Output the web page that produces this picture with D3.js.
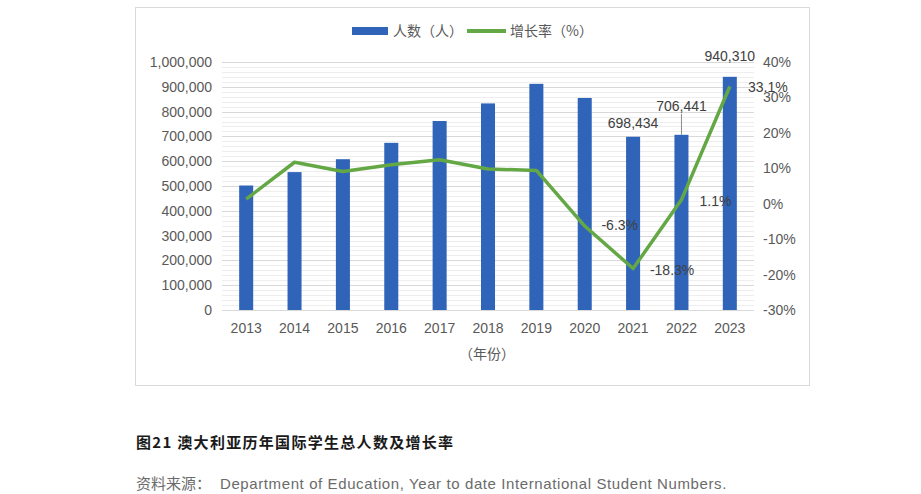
<!DOCTYPE html>
<html>
<head>
  <meta charset="utf-8">
  <script src="https://cdn.jsdelivr.net/npm/d3@7"></script>
  <style>
    body { margin: 0; background: #fff; }
    text { font-family: "Liberation Sans", Arial, "Noto Sans CJK SC", sans-serif; }
    .cjk { font-family: "Noto Sans CJK SC", "Liberation Sans", sans-serif; }
  </style>
</head>
<body>
  <svg width="921" height="494"></svg>
  <script>
    // data
    const years = ["2013", "2014", "2015", "2016", "2017", "2018", "2019", "2020", "2021", "2022", "2023"];
    const students = [502000, 556000, 608000, 674000, 762000, 833000, 912000, 855000, 698434, 706441, 940310];
    const growth = [1.3, 11.7, 9.1, 11.0, 12.4, 9.8, 9.4, -6.3, -18.3, 1.1, 33.1];
    const leftTicks = [0, 100000, 200000, 300000, 400000, 500000, 600000, 700000, 800000, 900000, 1000000];
    const rightTicks = [-30, -20, -10, 0, 10, 20, 30, 40];

    const blue = "#2f64b9";
    const green = "#64a846";
    const tickColor = "#595959";

    const svg = d3.select("svg");

    // outer frame
    svg.append("rect")
      .attr("x", 135.5).attr("y", 7.5)
      .attr("width", 674).attr("height", 378)
      .attr("fill", "#fff")
      .attr("stroke", "#d9d9d9");

    const x = d3.scaleBand().domain(years).range([222, 754]).paddingInner(0.71).paddingOuter(0.355);
    const y = d3.scaleLinear().domain([0, 1000000]).range([310, 62]);
    const y2 = d3.scaleLinear().domain([-30, 40]).range([310, 62]);

    // minor + major gridlines
    const minor = d3.range(0, 1000001, 20000).filter(v => v % 100000 !== 0);
    svg.append("g").selectAll("line").data(minor).join("line")
      .attr("x1", 222).attr("x2", 754)
      .attr("y1", d => Math.round(y(d)) + 0.5).attr("y2", d => Math.round(y(d)) + 0.5)
      .attr("stroke", "#eeeeee");
    svg.append("g").selectAll("line").data(leftTicks).join("line")
      .attr("x1", 222).attr("x2", 754)
      .attr("y1", d => Math.round(y(d)) + 0.5).attr("y2", d => Math.round(y(d)) + 0.5)
      .attr("stroke", "#d9d9d9");

    // left axis
    const fmt = d3.format(",");
    const leftAxis = svg.append("g")
      .attr("transform", "translate(222,0)")
      .call(d3.axisLeft(y).tickValues(leftTicks).tickFormat(fmt).tickSize(0).tickPadding(10));
    leftAxis.select(".domain").remove();
    leftAxis.selectAll("text").attr("font-size", 14).attr("fill", tickColor).attr("font-family", "Liberation Sans, Arial, sans-serif");

    // right axis
    const rightAxis = svg.append("g")
      .attr("transform", "translate(754,0)")
      .call(d3.axisRight(y2).tickValues(rightTicks).tickFormat(d => d + "%").tickSize(0).tickPadding(9));
    rightAxis.select(".domain").remove();
    rightAxis.selectAll("text").attr("font-size", 14).attr("fill", tickColor).attr("font-family", "Liberation Sans, Arial, sans-serif");

    // bottom axis
    const bottomAxis = svg.append("g")
      .attr("transform", "translate(0,310)")
      .call(d3.axisBottom(x).tickSize(0).tickPadding(13));
    bottomAxis.select(".domain").remove();
    bottomAxis.selectAll("text").attr("font-size", 14).attr("fill", tickColor).attr("font-family", "Liberation Sans, Arial, sans-serif");

    svg.append("text")
      .attr("class", "cjk")
      .attr("x", 487).attr("y", 359)
      .attr("text-anchor", "middle")
      .attr("font-size", 14)
      .attr("fill", tickColor)
      .text("（年份）");

    // bars
    svg.append("g").selectAll("rect").data(students).join("rect")
      .attr("x", (d, i) => x(years[i]))
      .attr("y", d => y(d))
      .attr("width", x.bandwidth())
      .attr("height", d => y(0) - y(d))
      .attr("fill", blue);

    // growth line
    const line = d3.line()
      .x((d, i) => x(years[i]) + x.bandwidth() / 2)
      .y(d => y2(d));
    svg.append("path")
      .datum(growth)
      .attr("d", line)
      .attr("fill", "none")
      .attr("stroke", green)
      .attr("stroke-width", 3.5)
      .attr("stroke-linejoin", "round");

    // bar data labels (2021-2023)
    const barLabelOffset = { 8: -9, 9: -24, 10: -16 };
    Object.keys(barLabelOffset).forEach(k => {
      const i = +k;
      const cx = x(years[i]) + x.bandwidth() / 2;
      svg.append("text")
        .attr("x", cx).attr("y", y(students[i]) + barLabelOffset[k])
        .attr("text-anchor", "middle")
        .attr("font-size", 14)
        .attr("fill", "#404040")
        .text(fmt(students[i]));
    });
    // leader line for 2022 label
    const cx22 = x(years[9]) + x.bandwidth() / 2;
    svg.append("line")
      .attr("x1", cx22).attr("x2", cx22)
      .attr("y1", y(students[9]) - 21).attr("y2", y(students[9]))
      .attr("stroke", "#8c8c8c");

    // growth data labels (2020-2023)
    const growthLabelOffset = { 7: [35, 4], 8: [39, 6], 9: [34, 6], 10: [38, 6] };
    Object.keys(growthLabelOffset).forEach(k => {
      const i = +k;
      const [dx, dy] = growthLabelOffset[k];
      svg.append("text")
        .attr("x", x(years[i]) + x.bandwidth() / 2 + dx)
        .attr("y", y2(growth[i]) + dy)
        .attr("text-anchor", "middle")
        .attr("font-size", 14)
        .attr("fill", "#404040")
        .text(growth[i].toFixed(1) + "%");
    });

    // legend
    svg.append("rect")
      .attr("x", 352).attr("y", 27).attr("width", 36).attr("height", 8)
      .attr("fill", blue);
    svg.append("text")
      .attr("class", "cjk")
      .attr("x", 393).attr("y", 36)
      .attr("font-size", 14)
      .attr("fill", tickColor)
      .text("人数（人）");
    svg.append("line")
      .attr("x1", 467).attr("x2", 506).attr("y1", 31).attr("y2", 31)
      .attr("stroke", green).attr("stroke-width", 4);
    svg.append("text")
      .attr("class", "cjk")
      .attr("x", 510).attr("y", 36)
      .attr("font-size", 14)
      .attr("fill", tickColor)
      .text("增长率（%）");

    // caption and source
    svg.append("text")
      .attr("class", "cjk")
      .attr("x", 136).attr("y", 448)
      .attr("font-size", 15)
      .attr("font-weight", "bold")
      .attr("letter-spacing", 1.3)
      .attr("fill", "#1a1a1a")
      .text("图21 澳大利亚历年国际学生总人数及增长率");
    svg.append("text")
      .attr("class", "cjk")
      .attr("x", 136).attr("y", 489)
      .attr("font-size", 15)
      .attr("fill", "#6b6b6b")
      .text("资料来源：");
    svg.append("text")
      .attr("x", 220).attr("y", 489)
      .attr("font-size", 15)
      .attr("letter-spacing", 0.6)
      .attr("fill", "#6b6b6b")
      .attr("font-family", "Roboto, 'Liberation Sans', sans-serif")
      .text("Department of Education, Year to date International Student Numbers.");
  </script>
</body>
</html>
